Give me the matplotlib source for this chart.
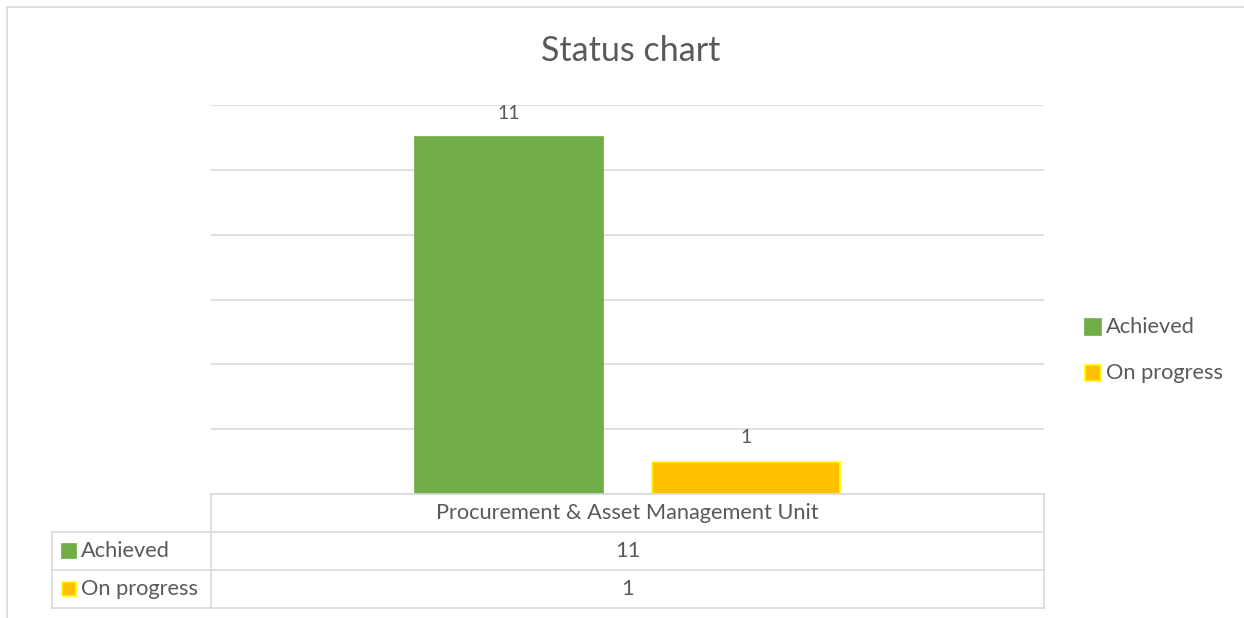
import matplotlib.pyplot as plt
from matplotlib.patches import Rectangle
from matplotlib.lines import Line2D

category = "Procurement & Asset Management Unit"
series = ["Achieved", "On progress"]
values = [11, 1]
fill_col = ["#70AD47", "#FFC000"]
edge_col = ["#70AD47", "#FFFF00"]

plt.rcParams["font.family"] = ["Lato", "DejaVu Sans"]
txt = "#595959"
grid = "#D9D9D9"

W, H = 1244, 618
fig = plt.figure(figsize=(W / 100, H / 100), dpi=100)

def fx(px):
    return px / W

def fy(py):
    return 1 - py / H

# outer chart frame (left + top only visible)
fig.add_artist(Line2D([fx(7), fx(7)], [fy(7), 0], color=grid, lw=1.2))
fig.add_artist(Line2D([fx(7), 1], [fy(7), fy(7)], color=grid, lw=1.2))

ax = fig.add_axes([fx(211), fy(494), fx(1044) - fx(211), fy(105) - fy(494)])
offs = [-0.142, 0.142]
for i in range(len(series)):
    ax.bar(offs[i], values[i], width=0.226, color=fill_col[i],
           edgecolor=edge_col[i], linewidth=1.2, label=series[i], zorder=3)
    ax.text(offs[i], values[i] + 0.75, str(values[i]), ha="center", va="center",
            fontsize=14, color=txt)
ax.set_xlim(-0.5, 0.5)
ax.set_ylim(0, 12)
ax.set_yticks(range(0, 13, 2))
ax.grid(axis="y", color=grid, lw=1.2)
ax.tick_params(left=False, bottom=False, labelleft=False, labelbottom=False)
for s in ax.spines.values():
    s.set_visible(False)

fig.text(fx(631), fy(51), "Status chart", ha="center", va="center",
         fontsize=24.5, color=txt)

# legend on the right
leg_y = [327, 373]
for i in range(len(series)):
    fig.add_artist(Rectangle((fx(1085), fy(leg_y[i] + 8)), fx(16), 16 / H,
                             facecolor=fill_col[i], edgecolor=edge_col[i], lw=1.2))
    fig.text(fx(1106), fy(leg_y[i]), series[i], ha="left", va="center",
             fontsize=15.7, color=txt)

# data table
rows_y = [494, 532, 570, 608]
x0, x1, x2 = 52, 211, 1044
lw = 1.2
fig.add_artist(Line2D([fx(x1), fx(x2)], [fy(494), fy(494)], color=grid, lw=lw))
for y in rows_y[1:]:
    fig.add_artist(Line2D([fx(x0), fx(x2)], [fy(y), fy(y)], color=grid, lw=lw))
fig.add_artist(Line2D([fx(x0), fx(x0)], [fy(532), fy(608)], color=grid, lw=lw))
fig.add_artist(Line2D([fx(x1), fx(x1)], [fy(494), fy(608)], color=grid, lw=lw))
fig.add_artist(Line2D([fx(x2), fx(x2)], [fy(494), fy(608)], color=grid, lw=lw))

cx = (x1 + x2) / 2
fig.text(fx(cx), fy(513), category, ha="center", va="center", fontsize=15.7, color=txt)
for i in range(len(series)):
    yc = (rows_y[i + 1] + rows_y[i + 2]) / 2
    fig.add_artist(Rectangle((fx(62), fy(yc + 7)), fx(14), 14 / H,
                             facecolor=fill_col[i], edgecolor=edge_col[i], lw=1.2))
    fig.text(fx(81), fy(yc), series[i], ha="left", va="center", fontsize=15.7, color=txt)
    fig.text(fx(cx), fy(yc), str(values[i]), ha="center", va="center", fontsize=15.7, color=txt)

fig.savefig("out.png", dpi=100)
